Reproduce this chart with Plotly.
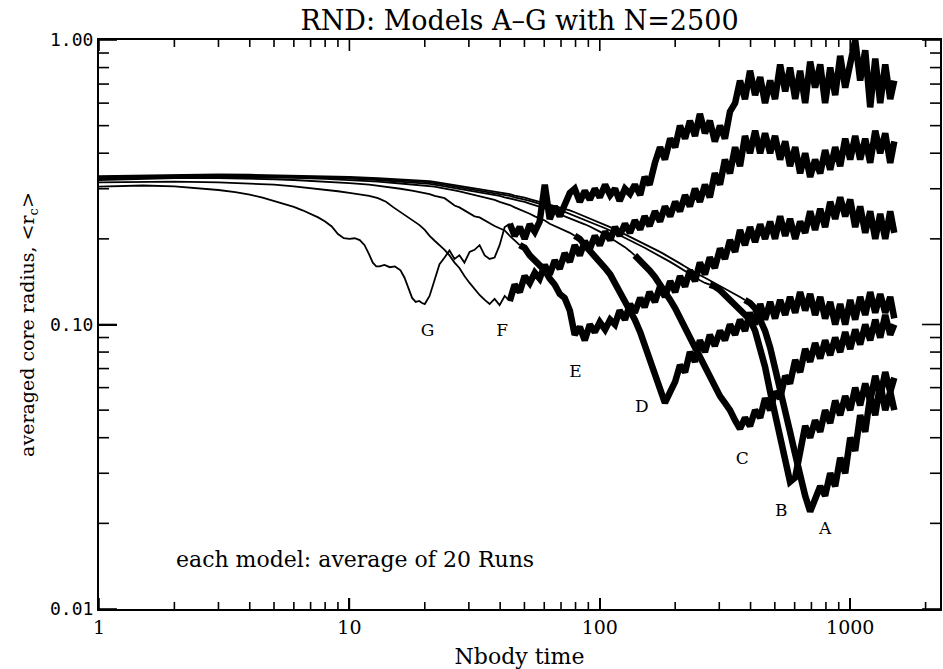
import plotly.graph_objects as go
import numpy as np

# ---------------- data ----------------
# shared sampling times (Nbody time units) for the later part of each run
T = [20.0, 20.9, 21.9, 22.9, 24.0, 25.1, 26.3, 27.5, 28.8, 30.2,
     31.6, 33.1, 34.7, 36.3, 38.0, 39.8, 41.7, 43.7, 45.7, 47.9,
     50.1, 52.5, 55.0, 57.5, 60.3, 63.1, 66.1, 69.2, 72.4, 75.9,
     79.4, 83.2, 87.1, 91.2, 95.5, 100, 105, 110, 115, 120,
     126, 132, 138, 145, 151, 158, 166, 174, 182, 191,
     200, 209, 219, 229, 240, 251, 263, 275, 288, 302,
     316, 331, 347, 363, 380, 398, 417, 437, 457, 479,
     501, 525, 550, 575, 603, 631, 661, 692, 724, 759,
     794, 832, 871, 912, 955, 1000, 1047, 1096, 1148, 1202,
     1259, 1318, 1380, 1445, 1500]

# early times per model
G_pre_t = [1, 1.5, 2, 2.5, 3, 3.5, 4, 4.5, 5, 5.5, 6, 6.5, 7, 7.5, 8, 8.5, 9, 9.5,
           10, 10.5, 11, 11.5, 12, 12.4, 12.8, 13.2, 13.8, 14.5, 15.2, 16, 16.6,
           17.2, 17.8, 18.4, 19, 19.5]
G_pre_r = [0.305, 0.308, 0.306, 0.302, 0.297, 0.292, 0.286, 0.279, 0.272, 0.266,
           0.259, 0.252, 0.245, 0.238, 0.23, 0.221, 0.208, 0.201, 0.2, 0.201,
           0.198, 0.19, 0.176, 0.165, 0.16, 0.16, 0.162, 0.159, 0.16, 0.155,
           0.146, 0.134, 0.124, 0.12, 0.121, 0.119]
F_pre_t = [1, 2, 3, 4, 5, 6, 7, 8, 9, 10, 11, 12, 13, 14, 15, 16, 17, 18, 19]
F_pre_r = [0.316, 0.318, 0.316, 0.313, 0.31, 0.306, 0.302, 0.298, 0.294, 0.29,
           0.287, 0.283, 0.278, 0.27, 0.258, 0.248, 0.24, 0.232, 0.224]
E_pre_t = [1, 2, 3, 4, 5, 6, 7, 8, 10, 12, 14, 16, 18]
E_pre_r = [0.322, 0.327, 0.327, 0.326, 0.324, 0.322, 0.32, 0.318, 0.314, 0.31,
           0.305, 0.3, 0.295]
ABCD_pre_t = [1, 2, 3, 4, 5, 6, 8, 10, 13, 16]
D_pre_r = [0.325, 0.33, 0.33, 0.33, 0.329, 0.328, 0.325, 0.322, 0.318, 0.313]
C_pre_r = [0.328, 0.332, 0.333, 0.332, 0.331, 0.33, 0.328, 0.326, 0.322, 0.318]
B_pre_r = [0.33, 0.334, 0.335, 0.334, 0.333, 0.332, 0.33, 0.328, 0.325, 0.321]
A_pre_r = [0.332, 0.336, 0.337, 0.336, 0.335, 0.334, 0.332, 0.33, 0.327, 0.324]

# averaged core radius on the shared grid T
G_r = [0.118, 0.126, 0.145, 0.163, 0.172, 0.182, 0.17, 0.175, 0.165, 0.18,
       0.183, 0.19, 0.175, 0.17, 0.172, 0.19, 0.22, 0.226, 0.205, 0.22,
       0.2, 0.225, 0.212, 0.23, 0.31, 0.235, 0.26, 0.24, 0.265, 0.29,
       0.3, 0.27, 0.295, 0.275, 0.3, 0.28, 0.31, 0.285, 0.3, 0.272,
       0.3, 0.288, 0.31, 0.285, 0.33, 0.31, 0.37, 0.42, 0.38, 0.45,
       0.42, 0.5, 0.45, 0.52, 0.46, 0.55, 0.47, 0.52, 0.44, 0.5,
       0.45, 0.56, 0.6, 0.72, 0.62, 0.78, 0.64, 0.74, 0.6, 0.72,
       0.62, 0.82, 0.66, 0.8, 0.62, 0.78, 0.6, 0.84, 0.68, 0.82,
       0.6, 0.8, 0.64, 0.88, 0.68, 0.82, 1.0, 0.72, 0.92, 0.58,
       0.86, 0.6, 0.82, 0.62, 0.72]
F_r = [0.215, 0.205, 0.197, 0.19, 0.183, 0.175, 0.165, 0.158, 0.148, 0.14,
       0.133, 0.127, 0.122, 0.118, 0.123, 0.117, 0.126, 0.121, 0.138, 0.13,
       0.148, 0.14, 0.152, 0.145, 0.162, 0.15, 0.168, 0.157, 0.178, 0.166,
       0.19, 0.175, 0.196, 0.184, 0.205, 0.19, 0.212, 0.198, 0.22, 0.205,
       0.226, 0.21, 0.232, 0.216, 0.24, 0.222, 0.25, 0.23, 0.26, 0.24,
       0.27, 0.25, 0.285, 0.26, 0.3, 0.27, 0.31, 0.28, 0.34, 0.31,
       0.38, 0.34, 0.42, 0.36, 0.46, 0.4, 0.48, 0.4, 0.47, 0.4,
       0.46, 0.38, 0.44, 0.36, 0.42, 0.34, 0.4, 0.33, 0.38, 0.34,
       0.41, 0.35, 0.42, 0.36, 0.45, 0.38, 0.46, 0.38, 0.45, 0.37,
       0.48, 0.4, 0.47, 0.37, 0.44]
E_r = [0.29, 0.287, 0.283, 0.28, 0.278, 0.27, 0.262, 0.258, 0.252, 0.247,
       0.24, 0.238, 0.232, 0.228, 0.222, 0.218, 0.214, 0.205, 0.198, 0.19,
       0.186, 0.175, 0.168, 0.16, 0.155, 0.145, 0.138, 0.128, 0.124, 0.112,
       0.092, 0.098, 0.088, 0.1, 0.094, 0.102, 0.096, 0.104, 0.1, 0.112,
       0.104, 0.118, 0.11, 0.124, 0.115, 0.13, 0.12, 0.136, 0.125, 0.142,
       0.13, 0.148, 0.136, 0.155, 0.142, 0.165, 0.15, 0.172, 0.158, 0.185,
       0.17, 0.198, 0.18, 0.215, 0.19, 0.22, 0.195, 0.225, 0.2, 0.23,
       0.2, 0.24, 0.205, 0.235, 0.2, 0.23, 0.21, 0.25, 0.215, 0.255,
       0.22, 0.27, 0.235, 0.28, 0.24, 0.275, 0.22, 0.26, 0.21, 0.25,
       0.2, 0.245, 0.2, 0.25, 0.21]
D_r = [0.308, 0.306, 0.305, 0.303, 0.3, 0.298, 0.296, 0.294, 0.291, 0.288,
       0.286, 0.283, 0.28, 0.277, 0.274, 0.27, 0.267, 0.263, 0.258, 0.254,
       0.25, 0.245, 0.24, 0.236, 0.232, 0.226, 0.222, 0.218, 0.215, 0.21,
       0.205, 0.2, 0.19, 0.182, 0.175, 0.168, 0.158, 0.15, 0.14, 0.132,
       0.122, 0.112, 0.104, 0.094, 0.085, 0.078, 0.068, 0.06, 0.053, 0.058,
       0.063, 0.072, 0.068, 0.08, 0.074, 0.088, 0.08, 0.092, 0.084, 0.095,
       0.088, 0.1, 0.092, 0.104, 0.095, 0.11, 0.1, 0.118, 0.104, 0.12,
       0.105, 0.122, 0.108, 0.125, 0.11, 0.13, 0.112, 0.128, 0.108, 0.125,
       0.105, 0.12, 0.1, 0.118, 0.1, 0.122, 0.104, 0.125, 0.108, 0.13,
       0.11, 0.128, 0.11, 0.125, 0.105]
C_r = [0.314, 0.312, 0.31, 0.308, 0.306, 0.304, 0.302, 0.3, 0.298, 0.296,
       0.294, 0.292, 0.29, 0.288, 0.285, 0.283, 0.28, 0.278, 0.275, 0.272,
       0.27, 0.266, 0.263, 0.26, 0.256, 0.252, 0.248, 0.245, 0.24, 0.237,
       0.233, 0.229, 0.225, 0.221, 0.217, 0.212, 0.207, 0.202, 0.197, 0.192,
       0.187, 0.181, 0.175, 0.168, 0.162, 0.155, 0.147, 0.139, 0.13, 0.122,
       0.114, 0.105, 0.097, 0.089, 0.083, 0.077, 0.071, 0.065, 0.06, 0.056,
       0.053, 0.05, 0.046, 0.043, 0.047, 0.044, 0.05, 0.047, 0.055, 0.05,
       0.058, 0.055, 0.066, 0.062, 0.075, 0.068, 0.082, 0.074, 0.086, 0.076,
       0.088, 0.078, 0.09, 0.08, 0.094, 0.082, 0.096, 0.085, 0.1, 0.088,
       0.104, 0.09, 0.108, 0.092, 0.1]
B_r = [0.318, 0.316, 0.314, 0.312, 0.31, 0.308, 0.306, 0.304, 0.302, 0.3,
       0.298, 0.296, 0.294, 0.292, 0.29, 0.288, 0.285, 0.283, 0.28, 0.278,
       0.275, 0.272, 0.269, 0.266, 0.263, 0.26, 0.256, 0.253, 0.249, 0.246,
       0.242, 0.238, 0.234, 0.23, 0.226, 0.222, 0.218, 0.214, 0.21, 0.206,
       0.202, 0.198, 0.194, 0.19, 0.186, 0.182, 0.178, 0.174, 0.17, 0.166,
       0.162, 0.158, 0.154, 0.15, 0.146, 0.143, 0.14, 0.138, 0.136, 0.132,
       0.127, 0.122, 0.118, 0.114, 0.109, 0.104, 0.095, 0.083, 0.071, 0.058,
       0.048, 0.04, 0.033, 0.028, 0.029, 0.036, 0.044, 0.04, 0.046, 0.042,
       0.05, 0.045, 0.054, 0.048, 0.056, 0.05, 0.06, 0.052, 0.062, 0.054,
       0.066, 0.056, 0.068, 0.058, 0.065]
A_r = [0.321, 0.319, 0.317, 0.315, 0.313, 0.311, 0.309, 0.307, 0.305, 0.303,
       0.301, 0.299, 0.297, 0.295, 0.293, 0.291, 0.289, 0.287, 0.284, 0.282,
       0.279, 0.276, 0.273, 0.27, 0.267, 0.264, 0.261, 0.258, 0.255, 0.252,
       0.248, 0.244, 0.24, 0.236, 0.232, 0.228, 0.224, 0.22, 0.216, 0.212,
       0.208, 0.204, 0.2, 0.196, 0.192, 0.188, 0.184, 0.18, 0.176, 0.172,
       0.168, 0.164, 0.16, 0.156, 0.152, 0.149, 0.146, 0.143, 0.14, 0.137,
       0.134, 0.131, 0.128, 0.125, 0.122, 0.119, 0.114, 0.105, 0.095, 0.083,
       0.071, 0.06, 0.05, 0.042, 0.035, 0.029, 0.025, 0.022, 0.024, 0.027,
       0.025, 0.03, 0.027, 0.034, 0.03, 0.04, 0.036, 0.048, 0.042, 0.056,
       0.048, 0.062, 0.05, 0.058, 0.05]

MODELS = ["A", "B", "C", "D", "E", "F", "G"]
LABEL_T = [795, 531, 371, 147, 80, 40.7, 20.5]
LABEL_R = [0.019, 0.0219, 0.0334, 0.0509, 0.0676, 0.094, 0.094]

# tick positions
X_MAJOR = [1, 10, 100, 1000]
X_MINOR = [2, 3, 4, 5, 6, 7, 8, 9, 20, 30, 40, 50, 60, 70, 80, 90,
           200, 300, 400, 500, 600, 700, 800, 900, 2000]
Y_MAJOR = [0.01, 0.1, 1]
Y_MINOR = [0.02, 0.03, 0.04, 0.05, 0.06, 0.07, 0.08, 0.09,
           0.2, 0.3, 0.4, 0.5, 0.6, 0.7, 0.8, 0.9]

# ---------------- style ----------------
THICK_FROM = {"A": 380, "B": 280, "C": 140, "D": 80, "E": 50, "F": 45, "G": 45}
FONT = "DejaVu Serif"
X_RANGE = [0, 3.3586]
Y_RANGE = [-2, 0]
# tick lengths as fractions of the plot area (plot is 843 x 569 px)
XT_MAJOR, XT_MINOR = 11 / 569, 7 / 569
YT_MAJOR, YT_MINOR = 18 / 843, 10 / 843

series = {
    "A": (ABCD_pre_t + T, A_pre_r + A_r),
    "B": (ABCD_pre_t + T, B_pre_r + B_r),
    "C": (ABCD_pre_t + T, C_pre_r + C_r),
    "D": (ABCD_pre_t + T, D_pre_r + D_r),
    "E": (E_pre_t + T, E_pre_r + E_r),
    "F": (F_pre_t + T, F_pre_r + F_r),
    "G": (G_pre_t + T, G_pre_r + G_r),
}

fig = go.Figure()
for m in MODELS:
    t, r = series[m]
    cut = THICK_FROM[m]
    t_thin = [a for a in t if a <= cut]
    r_thin = [b for a, b in zip(t, r) if a <= cut]
    t_thick = [a for a in t if a >= cut]
    r_thick = [b for a, b in zip(t, r) if a >= cut]
    if t_thick and t_thin and t_thick[0] > t_thin[-1]:
        t_thick = [t_thin[-1]] + t_thick
        r_thick = [r_thin[-1]] + r_thick
    fig.add_trace(go.Scatter(x=t_thin, y=r_thin, mode="lines",
                             line=dict(color="black", width=1.8),
                             name=m, hoverinfo="skip"))
    fig.add_trace(go.Scatter(x=t_thick, y=r_thick, mode="lines",
                             line=dict(color="black", width=6.5),
                             name=m, hoverinfo="skip"))

# model letters
fig.add_trace(go.Scatter(x=LABEL_T, y=LABEL_R, text=MODELS, mode="text",
                         textposition="middle center",
                         textfont=dict(family=FONT, size=17, color="black"),
                         hoverinfo="skip", showlegend=False))

fig.add_annotation(x=np.log10(2.0), y=np.log10(0.0149), xref="x", yref="y",
                   xanchor="left", yanchor="middle", showarrow=False,
                   text="each model: average of 20 Runs",
                   font=dict(family=FONT, size=22, color="black"))

# IDL-style inward tick marks on all four sides, placed through the axis scales
# (shape coordinates on log axes take the data values themselves)
tick_line = dict(color="black", width=1.6)
for vals, ln in ((X_MAJOR, XT_MAJOR), (X_MINOR, XT_MINOR)):
    for v in vals:
        fig.add_shape(type="line", xref="x", yref="y domain", x0=v, x1=v,
                      y0=0, y1=ln, line=tick_line)
        fig.add_shape(type="line", xref="x", yref="y domain", x0=v, x1=v,
                      y0=1, y1=1 - ln, line=tick_line)
for vals, ln in ((Y_MAJOR, YT_MAJOR), (Y_MINOR, YT_MINOR)):
    for v in vals:
        fig.add_shape(type="line", xref="x domain", yref="y", x0=0, x1=ln,
                      y0=v, y1=v, line=tick_line)
        fig.add_shape(type="line", xref="x domain", yref="y", x0=1, x1=1 - ln,
                      y0=v, y1=v, line=tick_line)

fig.update_layout(
    width=943, height=669,
    margin=dict(l=99, r=1, t=40, b=60),
    paper_bgcolor="white", plot_bgcolor="white",
    showlegend=False,
    title=dict(text="RND: Models A\u2013G with N=2500", x=0.5, xref="paper",
               xanchor="center", y=1 - 21 / 669, yanchor="middle", yref="container",
               font=dict(family=FONT, size=27, color="black")),
    xaxis=dict(
        type="log", range=X_RANGE, showgrid=False, zeroline=False,
        showline=True, linecolor="black", linewidth=2, mirror=True,
        ticks="inside", ticklen=11, tickwidth=2, tickcolor="black",
        tickmode="array", tickvals=X_MAJOR, ticktext=["1", "10", "100", "1000"],
        tickfont=dict(family=FONT, size=19, color="black"),
        title=dict(text="Nbody time", font=dict(family=FONT, size=22, color="black"),
                   standoff=12),
    ),
    yaxis=dict(
        type="log", range=Y_RANGE, showgrid=False, zeroline=False,
        showline=True, linecolor="black", linewidth=2, mirror=True,
        ticks="inside", ticklen=18, tickwidth=2, tickcolor="black",
        tickmode="array", tickvals=Y_MAJOR, ticktext=["0.01", "0.10", "1.00"],
        tickfont=dict(family="DejaVu Sans Mono", size=18, color="black"),
        title=dict(text="averaged core radius, &lt;r<sub>c</sub>&gt;",
                   font=dict(family=FONT, size=19, color="black"), standoff=10),
    ),
)

fig.write_html("out.html")
